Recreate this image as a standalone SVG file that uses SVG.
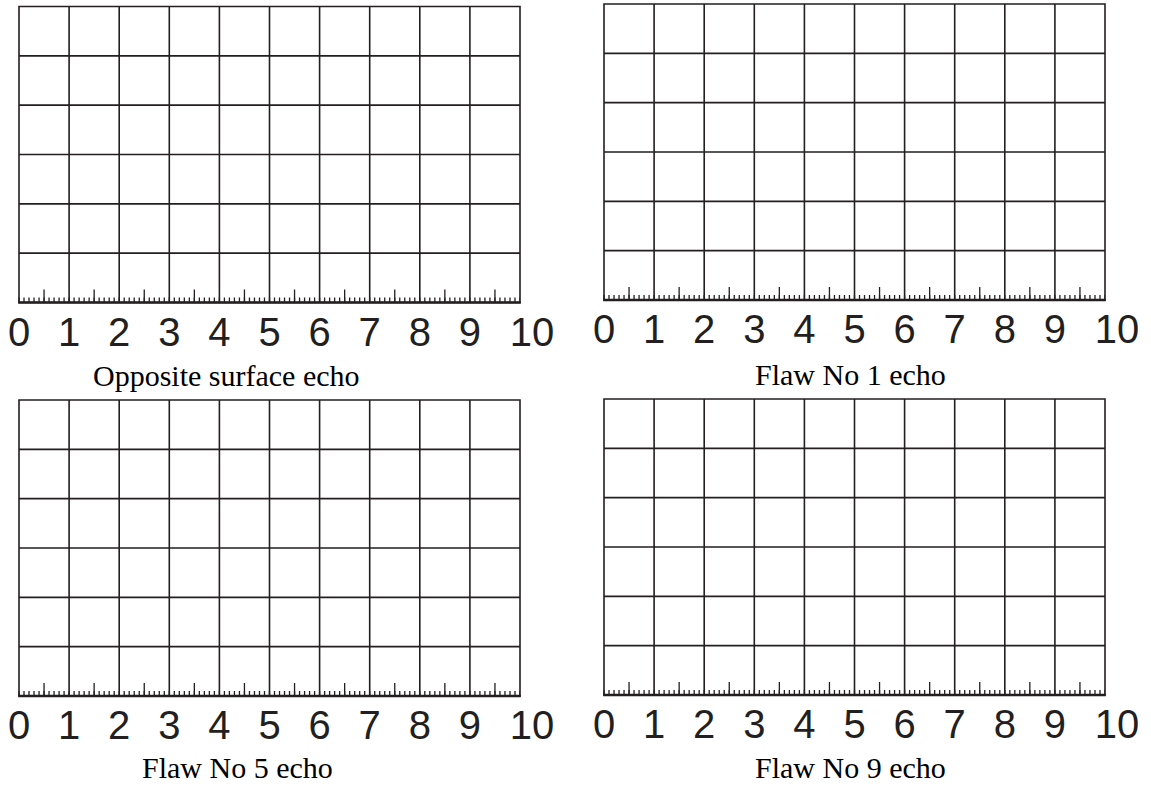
<svg xmlns="http://www.w3.org/2000/svg" xmlns:xlink="http://www.w3.org/1999/xlink" width="1151" height="785" viewBox="0 0 1151 785">
<style>
.grid{fill:none;stroke:#231f20;stroke-width:1.6}
.base{stroke:#231f20;stroke-width:2.4}
.tick{fill:none;stroke:#231f20}
.small{stroke-width:5;stroke-dasharray:1.3 3.71}
.mid{stroke-width:13;stroke-dasharray:1.3 48.8}
.num{font-family:"Liberation Sans",Arial,sans-serif;font-size:40px;fill:#231f20;text-anchor:middle}
.cap{font-family:"Liberation Serif","Times New Roman",serif;font-size:30px;fill:#000}
</style>
<defs>
<g id="scope">
<path class="grid" d="M0,0H501V296H0Z M50.1,0V296 M100.2,0V296 M150.3,0V296 M200.4,0V296 M250.5,0V296 M300.6,0V296 M350.7,0V296 M400.8,0V296 M450.9,0V296 M0,49.33H501 M0,98.67H501 M0,148H501 M0,197.33H501 M0,246.67H501"/>
<line class="base" x1="-0.8" y1="296" x2="501.8" y2="296"/>
<line class="tick small" x1="-0.65" y1="293.5" x2="501" y2="293.5"/>
<line class="tick mid" x1="24.4" y1="289.5" x2="501" y2="289.5"/>
<text class="num" y="339"><tspan x="0">0</tspan><tspan x="50.1">1</tspan><tspan x="100.2">2</tspan><tspan x="150.3">3</tspan><tspan x="200.4">4</tspan><tspan x="250.5">5</tspan><tspan x="300.6">6</tspan><tspan x="350.7">7</tspan><tspan x="400.8">8</tspan><tspan x="450.9">9</tspan><tspan x="513">10</tspan></text>
</g>
</defs>
<rect width="1151" height="785" fill="#fff"/>
<g id="panel-opposite-surface">
<use xlink:href="#scope" href="#scope" x="19" y="6.5"/>
<text class="cap" x="93" y="386">Opposite surface echo</text>
</g>
<g id="panel-flaw-1">
<use xlink:href="#scope" href="#scope" x="604" y="4"/>
<text class="cap" x="755" y="385">Flaw No 1 echo</text>
</g>
<g id="panel-flaw-5">
<use xlink:href="#scope" href="#scope" x="19" y="400"/>
<text class="cap" x="142" y="778">Flaw No 5 echo</text>
</g>
<g id="panel-flaw-9">
<use xlink:href="#scope" href="#scope" x="604" y="399"/>
<text class="cap" x="755" y="778">Flaw No 9 echo</text>
</g>
<g id="connectors"/>
</svg>
